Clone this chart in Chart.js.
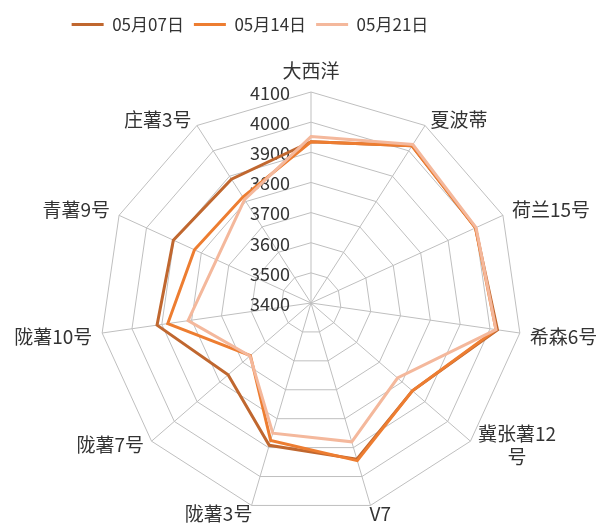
<!DOCTYPE html>
<html>
<head>
<meta charset="utf-8">
<script src="https://cdn.jsdelivr.net/npm/chart.js@4/dist/chart.umd.min.js"></script>
<style>
  html, body { margin: 0; padding: 0; background: #fff; }
  #wrap { width: 602px; height: 523px; }
</style>
</head>
<body>
<div id="wrap"><canvas id="radar"></canvas></div>
<script>
// categories (品种) going clockwise from the top
var varietes = ["大西洋", "夏波蒂", "荷兰15号", "希森6号", ["冀张薯12", "号"], "V7", "陇薯3号", "陇薯7号", "陇薯10号", "青薯9号", "庄薯3号"]
var dates = ["05月07日", "05月14日", "05月21日"]
var val0507 = [3935, 4020, 4000, 4025, 3845, 3940, 3892, 3764, 3916, 3902, 3888]
var val0514 = [3935, 4020, 4000, 4020, 3845, 3945, 3875, 3666, 3880, 3825, 3818]
var val0521 = [3952, 4025, 4002, 4020, 3780, 3880, 3850, 3668, 3812, 3745, 3808]
var graduations = [3400, 3500, 3600, 3700, 3800, 3900, 4000, 4100]
var couleurs = ["#C0672F", "#ED7D31", "#F4B89C"]

var police = "'Noto Sans CJK SC', 'Noto Sans', sans-serif"
var gris = "#BFBFBF"
var texte = "#333333"

// where excel puts the plot: centre and outer radius
var centreX = 311
var centreY = 303
var rayon = 211

// excel puts the values left of the vertical axis, 3400 included
var etiquettes = {
	id: "etiquettes",
	beforeDatasetsDraw: function(chart){
		var r = chart.scales.r
		var ctx = chart.ctx
		ctx.save()
		ctx.font = "18px " + police
		ctx.fillStyle = texte
		ctx.textAlign = "right"
		ctx.textBaseline = "middle"
		for(var i=0;i<graduations.length;i++){
			var d = r.getDistanceFromCenterForValue(graduations[i])
			ctx.fillText(String(graduations[i]), r.xCenter - 21, r.yCenter - d + 1)
		}
		ctx.restore()
	}
}

// move the radar where it is in the picture, labels follow
// side labels are centred on their spoke end like excel does
function recaler(s){
	var dx = centreX - s.xCenter
	var dy = centreY - s.yCenter
	var dr = rayon - s.drawingArea
	var items = s._pointLabelItems || []
	for(var i=0;i<items.length;i++){
		var it = items[i]
		var ang = s.getIndexAngle(i)
		var a = ang - Math.PI/2
		var mx = dx + dr*Math.cos(a)
		var my = dy + dr*Math.sin(a)
		it.x += mx; it.left += mx; it.right += mx
		it.y += my; it.top += my; it.bottom += my
		var deg = ang*180/Math.PI
		if(deg > 5 && deg < 150 || deg > 210 && deg < 355){
			var vy = centreY - rayon*Math.cos(ang)
			var cible = vy + (vy < centreY ? -6 : 4)
			var h = it.bottom - it.top
			var sh = cible - h/2 - it.top
			it.y += sh; it.top += sh; it.bottom += sh
		}
		if(Array.isArray(varietes[i])){
			it.textAlign = "center"
			it.x = (it.left + it.right)/2
		}
	}
	s.xCenter = centreX
	s.yCenter = centreY
	s.drawingArea = rayon
}

var series = [val0507, val0514, val0521]
var jeux = []
for(var i=0;i<series.length;i++){
	jeux.push({
		label: dates[i],
		data: series[i],
		borderColor: couleurs[i],
		backgroundColor: couleurs[i],
		borderWidth: 3,
		fill: false,
		pointRadius: 0,
		pointHoverRadius: 0,
		order: 3 - i
	})
}

new Chart("radar", {
	type: "radar",
	data: {labels: varietes, datasets: jeux},
	options: {
		responsive: true,
		maintainAspectRatio: false,
		animation: false,
		layout: {padding: {left: 0, right: 102, top: 6, bottom: 0}},
		plugins: {
			tooltip: {enabled: false},
			legend: {
				position: "top",
				labels: {
					usePointStyle: true,
					pointStyle: "line",
					pointStyleWidth: 32,
					font: {family: police, size: 17},
					color: texte,
					padding: 10,
					sort: function(a, b){ return a.datasetIndex - b.datasetIndex }
				}
			}
		},
		scales: {
			r: {
				min: 3400,
				max: 4100,
				beginAtZero: false,
				ticks: {stepSize: 100, display: false},
				grid: {color: gris, lineWidth: 1},
				angleLines: {color: gris, lineWidth: 1},
				pointLabels: {
					font: {family: police, size: 19},
					color: texte,
					padding: function(c){ return (c.index === 5 || c.index === 6) ? -3 : 10 }
				},
				afterFit: recaler
			}
		}
	},
	plugins: [etiquettes]
})
</script>
</body>
</html>
